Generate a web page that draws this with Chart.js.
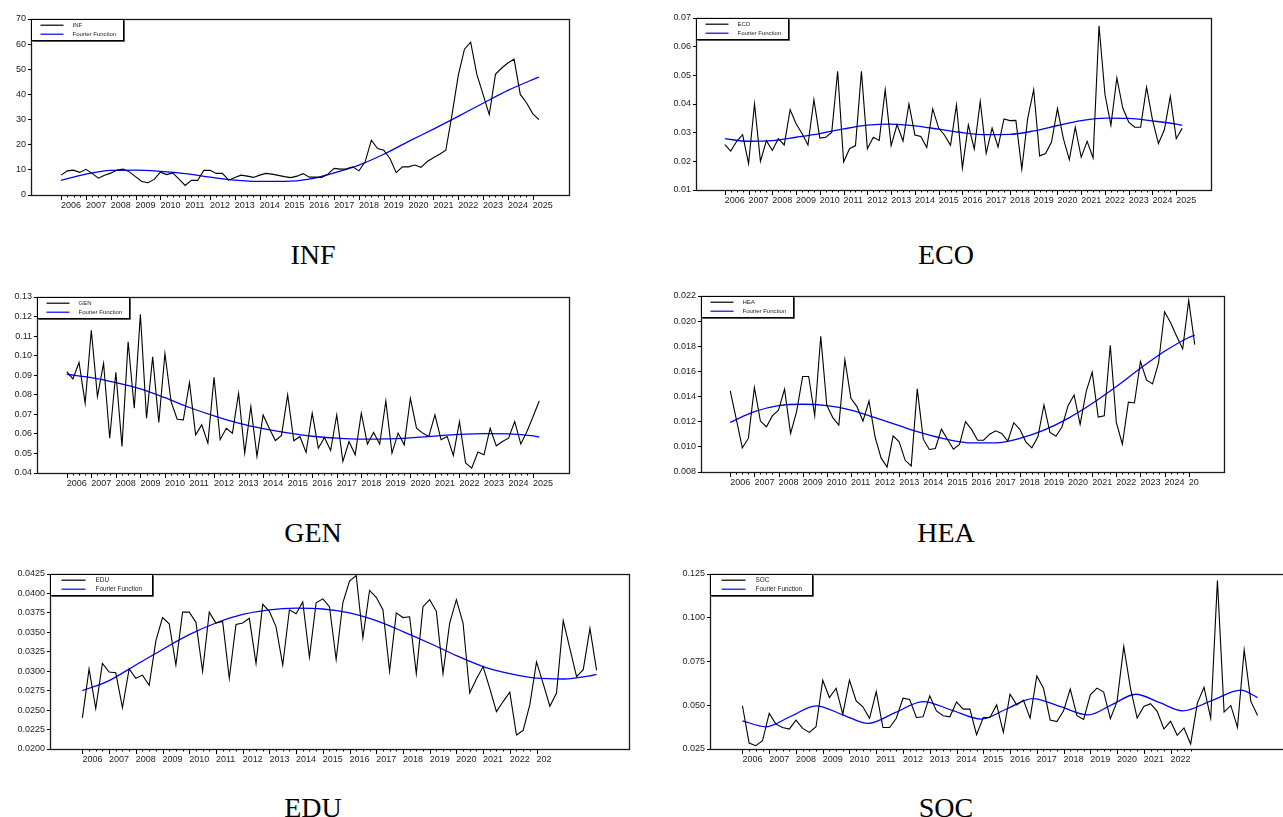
<!DOCTYPE html>
<html><head><meta charset="utf-8">
<script src="https://cdn.jsdelivr.net/npm/chart.js@4/dist/chart.umd.min.js"></script>
<style>
html,body{margin:0;padding:0;background:#fff;overflow:hidden;width:1283px;height:817px;position:relative}
.title{position:absolute;font-family:"Liberation Serif","Times New Roman",serif;font-size:28px;line-height:28px;color:#000;transform:translateX(-50%);white-space:nowrap}
</style></head><body>
<script>
// ---------- DATA ----------
const yearLabels = ['2006','2007','2008','2009','2010','2011','2012','2013','2014','2015','2016','2017','2018','2019','2020','2021','2022','2023','2024','2025'];
const heaXLabels = ['2006','2007','2008','2009','2010','2011','2012','2013','2014','2015','2016','2017','2018','2019','2020','2021','2022','2023','2024','20'];
const eduXLabels = ['2006','2007','2008','2009','2010','2011','2012','2013','2014','2015','2016','2017','2018','2019','2020','2021','2022','202'];
const socXLabels = ['2006','2007','2008','2009','2010','2011','2012','2013','2014','2015','2016','2017','2018','2019','2020','2021','2022'];

const infYLabels = ['0','10','20','30','40','50','60','70'];
const ecoYLabels = ['0.01','0.02','0.03','0.04','0.05','0.06','0.07'];
const genYLabels = ['0.04','0.05','0.06','0.07','0.08','0.09','0.10','0.11','0.12','0.13'];
const heaYLabels = ['0.008','0.010','0.012','0.014','0.016','0.018','0.020','0.022'];
const eduYLabels = ['0.0200','0.0225','0.0250','0.0275','0.0300','0.0325','0.0350','0.0375','0.0400','0.0425'];
const socYLabels = ['0.025','0.050','0.075','0.100','0.125'];

// quarterly observations, 2006Q1 .. 2025Q2
const infValues = [7.9,9.6,9.9,9.0,10.2,8.6,6.7,7.9,8.7,9.9,
 10.3,9.2,7.3,5.4,4.9,6.2,9.1,8.1,8.8,6.3,
 3.8,5.8,5.8,9.8,9.8,8.6,8.6,5.9,7.0,7.9,
 7.5,7.0,7.9,8.6,8.3,7.8,7.3,6.9,7.5,8.5,
 7.1,7.1,7.0,8.3,10.6,10.3,10.4,11.2,9.6,13.2,
 21.8,18.5,17.8,14.5,8.9,11.2,11.2,11.9,11.0,13.3,
 14.8,16.2,17.8,32.0,47.5,58.0,60.8,48.0,40.0,32.0,
 48.0,50.5,52.5,54.0,40.0,36.7,32.4,30.0];
const ecoValues = [0.0258,0.0236,0.0270,0.0293,0.0192,0.0400,0.0200,0.0272,0.0238,0.0279,
 0.0257,0.0380,0.0331,0.0297,0.0257,0.0415,0.0281,0.0284,0.0301,0.0514,
 0.0198,0.0244,0.0255,0.0514,0.0244,0.0284,0.0273,0.0450,0.0255,0.0328,
 0.0271,0.0400,0.0292,0.0287,0.0248,0.0383,0.0316,0.0291,0.0256,0.0397,
 0.0177,0.0327,0.0243,0.0409,0.0228,0.0316,0.0250,0.0348,0.0342,0.0343,
 0.0173,0.0351,0.0450,0.0219,0.0227,0.0267,0.0384,0.0279,0.0206,0.0319,
 0.0214,0.0270,0.0212,0.0673,0.0433,0.0326,0.0491,0.0386,0.0337,0.0319,
 0.0319,0.0459,0.0345,0.0262,0.0310,0.0427,0.0279,0.0315];
const genValues = [0.0918,0.0881,0.0965,0.0757,0.1130,0.0791,0.0960,0.0578,0.0915,0.0536,
 0.1071,0.0731,0.1212,0.0680,0.0994,0.0658,0.1011,0.0765,0.0675,0.0672,
 0.0862,0.0595,0.0646,0.0553,0.0889,0.0570,0.0629,0.0604,0.0808,0.0502,
 0.0740,0.0485,0.0697,0.0629,0.0566,0.0592,0.0799,0.0565,0.0587,0.0505,
 0.0706,0.0527,0.0582,0.0515,0.0697,0.0459,0.0561,0.0493,0.0706,0.0548,
 0.0607,0.0548,0.0768,0.0502,0.0604,0.0544,0.0782,0.0629,0.0604,0.0587,
 0.0697,0.0570,0.0587,0.0490,0.0663,0.0451,0.0425,0.0507,0.0493,0.0629,
 0.0539,0.0561,0.0578,0.0663,0.0548,0.0612,0.0689,0.0768];
const heaValues = [0.01445,0.01221,0.00992,0.01067,0.01472,0.01205,0.01160,0.01248,0.01291,0.01459,
 0.01107,0.01280,0.01560,0.01560,0.01248,0.01880,0.01333,0.01232,0.01173,0.01693,
 0.01387,0.01320,0.01205,0.01365,0.01080,0.00912,0.00840,0.01088,0.01040,0.00893,
 0.00848,0.01461,0.01061,0.00979,0.00987,0.01141,0.01061,0.00981,0.01019,0.01200,
 0.01139,0.01053,0.01053,0.01101,0.01128,0.01107,0.01045,0.01192,0.01139,0.01040,
 0.00992,0.01080,0.01333,0.01115,0.01085,0.01160,0.01328,0.01413,0.01179,0.01440,
 0.01595,0.01237,0.01248,0.01808,0.01195,0.01021,0.01355,0.01349,0.01680,0.01533,
 0.01501,0.01667,0.02075,0.01987,0.01880,0.01779,0.02165,0.01813];
const eduValues = [0.0240,0.0303,0.0252,0.0310,0.0299,0.0298,0.0253,0.0303,0.0291,0.0295,
 0.0282,0.0339,0.0369,0.0361,0.0308,0.0376,0.0376,0.0363,0.0300,0.0376,
 0.0362,0.0364,0.0291,0.0360,0.0362,0.0368,0.0310,0.0386,0.0377,0.0357,
 0.0308,0.0379,0.0374,0.0389,0.0318,0.0388,0.0393,0.0383,0.0315,0.0388,
 0.0416,0.0423,0.0343,0.0404,0.0395,0.0379,0.0300,0.0375,0.0369,0.0370,
 0.0297,0.0383,0.0392,0.0377,0.0297,0.0362,0.0392,0.0362,0.0272,0.0290,
 0.0306,0.0278,0.0248,0.0261,0.0273,0.0218,0.0224,0.0257,0.0312,0.0284,
 0.0255,0.0272,0.0365,0.0329,0.0293,0.0302,0.0355,0.0301];
const socValues = [0.0497,0.0284,0.0269,0.0297,0.0453,0.0392,0.0373,0.0364,0.0415,0.0368,
 0.0345,0.0377,0.0643,0.0544,0.0597,0.0449,0.0643,0.0525,0.0491,0.0425,
 0.0578,0.0373,0.0373,0.0426,0.0540,0.0533,0.0430,0.0434,0.0554,0.0468,
 0.0440,0.0434,0.0519,0.0478,0.0478,0.0332,0.0430,0.0430,0.0502,0.0345,
 0.0563,0.0502,0.0529,0.0426,0.0667,0.0597,0.0415,0.0407,0.0468,0.0592,
 0.0440,0.0419,0.0560,0.0598,0.0575,0.0423,0.0522,0.0836,0.0598,0.0427,
 0.0493,0.0509,0.0465,0.0364,0.0408,0.0328,0.0370,0.0279,0.0512,0.0602,
 0.0425,0.1212,0.0461,0.0499,0.0374,0.0817,0.0522,0.0442];

// Fourier fit, read at these quarter positions (0 = 2006Q1)
const fitQuarters = [0,4,8,12,16,20,24,28,32,36,40,44,48,52,56,60,64,68,72,76,77];
const infFit = [5.8,8.3,9.8,9.9,9.4,8.5,7.1,5.9,5.4,5.4,6.3,8.8,11.9,16.2,21.3,26.2,31.3,36.5,41.6,45.9,46.9];
const ecoFit = [0.0279,0.0270,0.0272,0.0284,0.0297,0.0313,0.0326,0.0330,0.0324,0.0312,0.0300,0.0293,0.0294,0.0306,0.0325,0.0342,0.0351,0.0350,0.0341,0.0330,0.0326];
const genFit = [0.0905,0.0888,0.0862,0.0830,0.0785,0.0735,0.0692,0.0655,0.0627,0.0605,0.0588,0.0578,0.0573,0.0574,0.0580,0.0589,0.0597,0.0601,0.0600,0.0590,0.0584];
const heaFit = [0.01195,0.01280,0.01328,0.01339,0.01328,0.01293,0.01232,0.01168,0.01107,0.01059,0.01032,0.01032,0.01067,0.01133,0.01227,0.01345,0.01480,0.01625,0.01760,0.01870,0.01889];
const eduFit = [0.0275,0.0288,0.0308,0.0328,0.0347,0.0362,0.0373,0.0379,0.0381,0.0380,0.0375,0.0365,0.0351,0.0336,0.0320,0.0306,0.0297,0.0291,0.0290,0.0294,0.0296];
const socFitQuarters = [0,3.5,7.25,11,14.9,18.8,22.9,27,31.35,35.7,39.55,43.4,47.55,51.7,55.25,58.8,62.3,65.8,70.15,74.5,77];
const socFit = [0.0411,0.0377,0.0437,0.0497,0.0447,0.0396,0.0459,0.0521,0.0471,0.0421,0.0480,0.0538,0.0492,0.0445,0.0504,0.0563,0.0516,0.0468,0.0527,0.0586,0.0544];

// ---------- LAYOUT / STYLE ----------
const smallLegend = {w:92, h:21, l0:9, l1:32, tx:41, fs:6};
const wideLegend  = {w:102, h:21, l0:11, l1:35, tx:45, fs:6.4};
const panels = [
  {name:'INF', frame:[31,19,569,195],  values:infValues, fitQ:fitQuarters, fit:infFit, yLabels:infYLabels, xLabels:yearLabels, tickEnd:76, legend:smallLegend, title:[313,264]},
  {name:'ECO', frame:[696,18,1211,190], values:ecoValues, fitQ:fitQuarters, fit:ecoFit, yLabels:ecoYLabels, xLabels:yearLabels, tickEnd:76, legend:smallLegend, title:[946,264]},
  {name:'GEN', frame:[37,297,569,473], values:genValues, fitQ:fitQuarters, fit:genFit, yLabels:genYLabels, xLabels:yearLabels, tickEnd:76, legend:smallLegend, title:[313,542]},
  {name:'HEA', frame:[701,296,1224,472], values:heaValues, fitQ:fitQuarters, fit:heaFit, yLabels:heaYLabels, xLabels:heaXLabels, tickEnd:76, legend:smallLegend, title:[946,542]},
  {name:'EDU', frame:[50,574,629,749], values:eduValues, fitQ:fitQuarters, fit:eduFit, yLabels:eduYLabels, xLabels:eduXLabels, tickEnd:68, legend:wideLegend, title:[313,817]},
  {name:'SOC', frame:[710,574,1290,749], values:socValues, fitQ:socFitQuarters, fit:socFit, yLabels:socYLabels, xLabels:socXLabels, tickEnd:67, legend:wideLegend, title:[946,817]}
];

Chart.defaults.font.family = '"Liberation Sans", Arial, sans-serif';
Chart.defaults.font.size = 9;
Chart.defaults.color = '#222';

const decorPlugin = {
  id: 'panelDecor',
  afterDraw(chart, args, opts) {
    const {ctx, chartArea: a} = chart;
    const x = chart.scales.x;
    ctx.save();
    // quarterly minor ticks and yearly major ticks, below the axis
    ctx.strokeStyle = '#000'; ctx.lineWidth = 1;
    const bottom = Math.round(a.bottom);
    for (let q = 0; q <= opts.tickEnd; q++) {
      const px = Math.round(x.getPixelForValue(q)) + 0.5;
      const len = (q % 4 === 0) ? 5 : 2.5;
      ctx.beginPath(); ctx.moveTo(px, bottom); ctx.lineTo(px, bottom + len); ctx.stroke();
    }
    // frame
    ctx.strokeStyle = '#1a1a1a'; ctx.lineWidth = 1.3;
    ctx.strokeRect(Math.round(a.left) + 0.5, Math.round(a.top) + 0.5, Math.round(a.right - a.left), Math.round(a.bottom - a.top));
    // legend box
    const lg = opts.legend;
    const x0 = Math.round(a.left) + 0.5, y0 = Math.round(a.top) + 0.5;
    ctx.fillStyle = '#fff'; ctx.fillRect(x0, y0, lg.w, lg.h);
    ctx.strokeStyle = '#000'; ctx.lineWidth = 1; ctx.strokeRect(x0, y0, lg.w, lg.h);
    ctx.strokeStyle = '#555';
    ctx.beginPath(); ctx.moveTo(x0 + lg.w + 1, y0 + 1); ctx.lineTo(x0 + lg.w + 1, y0 + lg.h + 1); ctx.lineTo(x0 + 1, y0 + lg.h + 1); ctx.stroke();
    chart.data.datasets.forEach((ds, i) => {
      const yy = y0 + (i === 0 ? 5.7 : 14.7);
      ctx.strokeStyle = ds.borderColor; ctx.lineWidth = 1.2;
      ctx.beginPath(); ctx.moveTo(x0 + lg.l0, yy); ctx.lineTo(x0 + lg.l1, yy); ctx.stroke();
      ctx.fillStyle = '#222'; ctx.font = lg.fs + 'px "Liberation Sans", Arial, sans-serif';
      ctx.textBaseline = 'middle'; ctx.textAlign = 'left';
      ctx.fillText(ds.label, x0 + lg.tx, yy + 0.5);
    });
    ctx.restore();
  }
};

function makePanel(p) {
  const [L, T, R, B] = p.frame;
  const YW = 60, TP = 8, XH = 22, RP = 4;
  const w = (R - L) + YW + RP, h = (B - T) + TP + XH;
  const cv = document.createElement('canvas');
  cv.width = w; cv.height = h;
  cv.style.cssText = 'position:absolute;left:' + (L - YW) + 'px;top:' + (T - TP) + 'px;width:' + w + 'px;height:' + h + 'px';
  document.body.appendChild(cv);
  const yVals = p.yLabels.map(s => parseFloat(s));
  new Chart(cv, {
    type: 'line',
    data: { datasets: [
      { label: p.name, data: p.values.map((v, i) => ({x: i, y: v})), borderColor: '#000000', borderWidth: 1.1, pointRadius: 0, tension: 0 },
      { label: 'Fourier Function', data: p.fitQ.map((q, i) => ({x: q, y: p.fit[i]})), borderColor: '#0000ff', borderWidth: 1.3, pointRadius: 0, cubicInterpolationMode: 'monotone' }
    ]},
    options: {
      responsive: false, animation: false, devicePixelRatio: 1,
      layout: { padding: { top: TP, right: RP, left: 0, bottom: 0 } },
      plugins: { legend: { display: false }, tooltip: { enabled: false }, panelDecor: { tickEnd: p.tickEnd, legend: p.legend } },
      scales: {
        x: {
          type: 'linear', min: -4.85, max: 81.85,
          grid: { display: false, drawTicks: false, tickLength: 0 }, border: { display: false },
          afterBuildTicks: s => { s.ticks = p.xLabels.map((_, i) => ({ value: i * 4 })); },
          afterFit: s => { s.height = XH; },
          ticks: { autoSkip: false, maxRotation: 0, align: 'start', padding: 5, color: '#222', font: { size: 9 },
                   callback: (v, i) => p.xLabels[i] }
        },
        y: {
          type: 'linear', min: yVals[0], max: yVals[yVals.length - 1],
          grid: { drawOnChartArea: false, drawTicks: true, tickLength: 3, color: '#000', tickColor: '#000' },
          border: { display: false },
          afterBuildTicks: s => { s.ticks = yVals.map(v => ({ value: v })); },
          afterFit: s => { s.width = YW; },
          ticks: { padding: 2, color: '#222', font: { size: 9 }, callback: (v, i) => p.yLabels[i] }
        }
      }
    },
    plugins: [decorPlugin]
  });
  const t = document.createElement('div');
  t.className = 'title';
  t.textContent = p.name;
  t.style.left = p.title[0] + 'px';
  t.style.top = (p.title[1] - 23.4) + 'px';
  document.body.appendChild(t);
}
panels.forEach(makePanel);
</script>
</body></html>
